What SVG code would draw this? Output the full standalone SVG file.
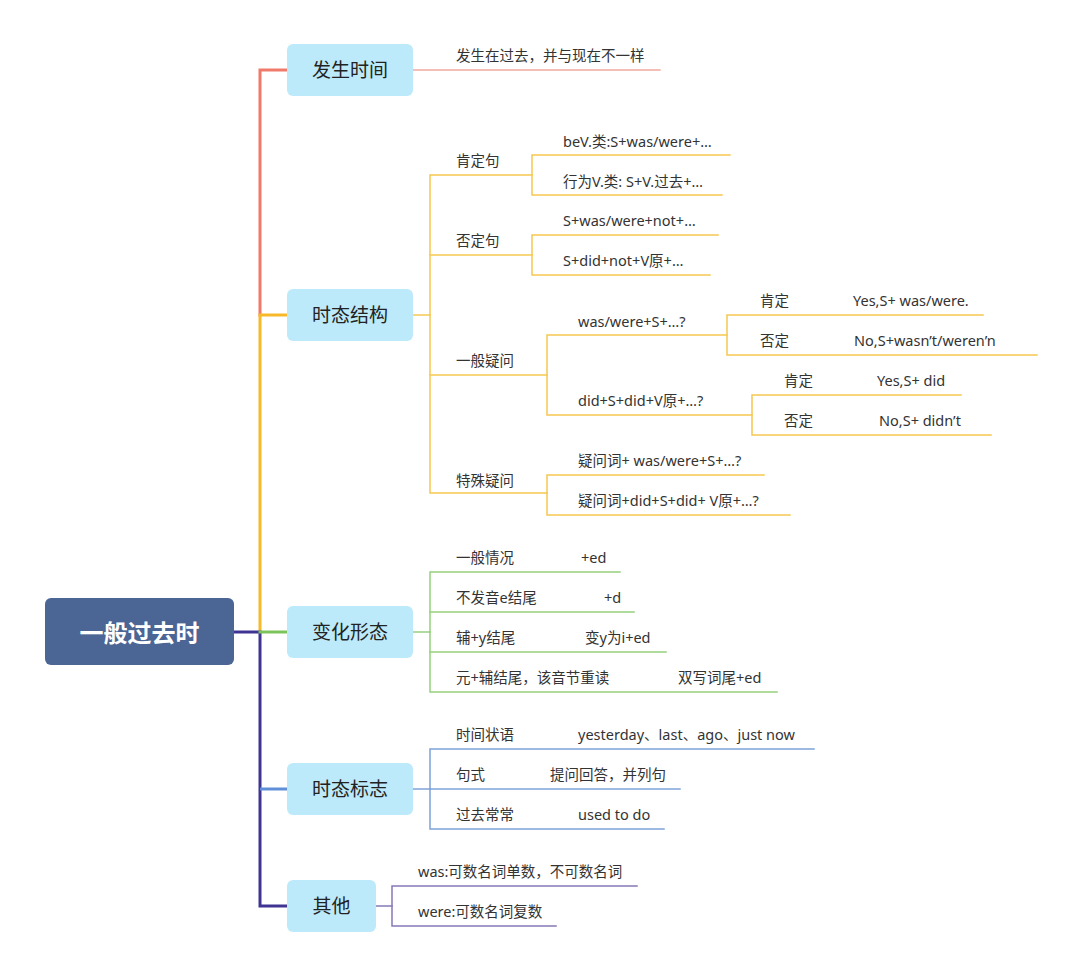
<svg xmlns="http://www.w3.org/2000/svg" width="1080" height="975" viewBox="0 0 1080 975">
<style>
text{font-family:"Noto Sans","Noto Sans CJK SC",sans-serif;fill:#333;dominant-baseline:central}
.leaf{font-size:14.5px}
.node rect{fill:#bdeafa}
.node text{font-size:19px;text-anchor:middle;fill:#222}
.root rect{fill:#4b6594}
.root text{font-size:24px;font-weight:bold;fill:#fff;text-anchor:middle}
line,polyline,path{fill:none;stroke-linecap:square}
.t{stroke-width:3}
.b{stroke-width:1.5}
.red{stroke:#f07a6a}.redl{stroke:#f2aaa2}
.org{stroke:#f7b92a}.orgl{stroke:#f6c850}
.grn{stroke:#7cc35a}.grnl{stroke:#95cf7c}
.blu{stroke:#5f8fd6}.blul{stroke:#7ea2d8}
.pur{stroke:#3f3494}.purl{stroke:#8678b8}
</style>
<rect width="1080" height="975" fill="#fff"/>
<g id="connectors">
<path class="t red" d="M260 315 V70 H287"/>
<path class="t org" d="M260 632 V315 H287"/>
<path class="t pur" d="M234 632 H260 V906 H287"/>
<path class="t grn" d="M260 632 H287"/>
<path class="t blu" d="M261.5 789 H287"/>
<line class="b redl" x1="413" y1="70" x2="660" y2="70"/>
<g class="b orgl">
<path d="M413 315 H430"/>
<path d="M532 175 H430 V493 H547"/>
<path d="M430 255 H532"/>
<path d="M430 375 H547"/>
<path d="M730 155 H532 V195 H722"/>
<path d="M718 235 H532 V275 H710"/>
<path d="M727 335 H547 V415 H752"/>
<path d="M983 315 H727 V355 H1037"/>
<path d="M961 395 H752 V435 H991"/>
<path d="M764 475 H547 V515 H790"/>
</g>
<g class="b grnl">
<path d="M413 632 H430"/>
<path d="M620 572 H430 V692 H777"/>
<path d="M430 612 H634"/>
<path d="M430 652 H666"/>
</g>
<g class="b blul">
<path d="M413 789 H430"/>
<path d="M814 749 H430 V829 H664"/>
<path d="M430 789 H680"/>
</g>
<g class="b purl">
<path d="M376 906 H392"/>
<path d="M637 886 H392 V926 H556"/>
</g>
</g>
<g id="root" class="root"><rect x="45" y="598" width="189" height="67" rx="6"/><text x="139.5" y="632">一般过去时</text></g>
<g id="n1" class="node"><rect x="287" y="44" width="126" height="52" rx="6"/><text x="350" y="69.5">发生时间</text></g>
<g id="n2" class="node"><rect x="287" y="289" width="126" height="52" rx="6"/><text x="350" y="314.5">时态结构</text></g>
<g id="n3" class="node"><rect x="287" y="606" width="126" height="52" rx="6"/><text x="350" y="631.5">变化形态</text></g>
<g id="n4" class="node"><rect x="287" y="763" width="126" height="52" rx="6"/><text x="350" y="788.5">时态标志</text></g>
<g id="n5" class="node"><rect x="287" y="880" width="89" height="52" rx="6"/><text x="331.5" y="905.5">其他</text></g>
<g transform="translate(0,-1.5)">
<g id="l1" class="leaf"><text x="456" y="56">发生在过去，并与现在不一样</text></g>
<g id="l2" class="leaf">
<text x="456" y="161">肯定句</text>
<text x="563" y="142">beV.类:S+was/were+…</text>
<text x="563" y="182">行为V.类: S+V.过去+…</text>
<text x="456" y="241">否定句</text>
<text x="563" y="221">S+was/were+not+…</text>
<text x="563" y="261">S+did+not+V原+…</text>
<text x="456" y="361">一般疑问</text>
<text x="578" y="322">was/were+S+…?</text>
<text x="760" y="301">肯定</text>
<text x="853" y="301">Yes,S+ was/were.</text>
<text x="760" y="341">否定</text>
<text x="854" y="341">No,S+wasn’t/weren’n</text>
<text x="578" y="401">did+S+did+V原+…?</text>
<text x="784" y="381">肯定</text>
<text x="877" y="381">Yes,S+ did</text>
<text x="784" y="421">否定</text>
<text x="879" y="421">No,S+ didn’t</text>
<text x="456" y="481">特殊疑问</text>
<text x="578" y="461">疑问词+ was/were+S+…?</text>
<text x="578" y="501">疑问词+did+S+did+ V原+…?</text>
</g>
<g id="l3" class="leaf">
<text x="456" y="558">一般情况</text><text x="581" y="558">+ed</text>
<text x="456" y="598">不发音e结尾</text><text x="604" y="598">+d</text>
<text x="456" y="638">辅+y结尾</text><text x="585" y="638">变y为i+ed</text>
<text x="456" y="678">元+辅结尾，该音节重读</text><text x="678" y="678">双写词尾+ed</text>
</g>
<g id="l4" class="leaf">
<text x="456" y="735">时间状语</text><text x="578" y="735">yesterday、last、ago、just now</text>
<text x="456" y="775">句式</text><text x="550" y="775">提问回答，并列句</text>
<text x="456" y="815">过去常常</text><text x="578" y="815">used to do</text>
</g>
<g id="l5" class="leaf">
<text x="418" y="872">was:可数名词单数，不可数名词</text>
<text x="418" y="912">were:可数名词复数</text>
</g>
</g>
</svg>
